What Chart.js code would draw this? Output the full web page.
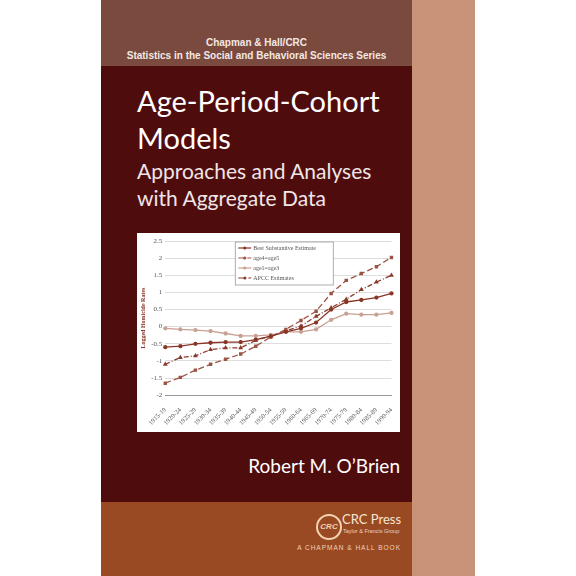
<!DOCTYPE html>
<html><head><meta charset="utf-8">
<script src="https://cdn.jsdelivr.net/npm/chart.js@4"></script>
<style>
body{margin:0;width:576px;height:576px;background:#fff;position:relative;overflow:hidden;font-family:"Open Sans",sans-serif}
.abs{position:absolute}
#top{left:101px;top:0;width:311px;height:66px;background:#7a4a3e}
#mid{left:101px;top:66px;width:311px;height:436px;background:#4f0c0d}
#bot{left:101px;top:502px;width:311px;height:74px;background:#9a4a22}
#side{left:412px;top:0;width:63px;height:576px;background:#c9937a}
.series{width:311px;left:101px;top:36px;text-align:center;color:#f3e8e2;font:bold 10px "Liberation Sans",sans-serif;line-height:13px}
.title{left:137px;color:#fff;font-size:29px;line-height:37px;font-family:Lato,sans-serif}
.sub{left:137px;color:#f0e6e6;font-size:21px;line-height:27px;font-family:Lato,sans-serif}
#box{left:137px;top:233px;width:263px;height:199px;background:#fff}
</style></head><body>
<div id="top" class="abs"></div><div id="mid" class="abs"></div><div id="bot" class="abs"></div><div id="side" class="abs"></div>
<div class="abs series">Chapman &amp; Hall/CRC<br>Statistics in the Social and Behavioral Sciences Series</div>
<div class="abs title" style="top:82px">Age-Period-Cohort<br>Models</div>
<div class="abs sub" style="top:157px">Approaches and Analyses<br>with Aggregate Data</div>
<div class="abs" style="left:200px;width:200px;text-align:right;top:454px;color:#fff;font:19px Lato,sans-serif">Robert M. O’Brien</div>
<div class="abs" style="left:316px;top:514px;width:22px;height:22px;border:2px solid #f2d2b0;border-radius:50%;color:#f2d2b0;font:italic bold 8px sans-serif;text-align:center;line-height:22px">CRC</div>
<div class="abs" style="left:342px;top:511px;color:#f7e4d2;font:13px Lato,sans-serif">CRC Press</div>
<div class="abs" style="left:343px;top:528px;color:#f0d0b8;font:5.5px sans-serif">Taylor &amp; Francis Group</div>
<div class="abs" style="left:290px;top:544px;width:111px;text-align:right;color:#f0d0b8;font:6.5px sans-serif;letter-spacing:1px">A CHAPMAN &amp; HALL BOOK</div>
<div id="box" class="abs"><canvas id="c" width="263" height="199"></canvas></div>
<script>
var cohorts=["1915-19","1920-24","1925-29","1930-34","1935-39","1940-44","1945-49","1950-54","1955-59","1960-64","1965-69","1970-74","1975-79","1980-84","1985-89","1990-94"];
var bestEstimate=[-0.6,-0.57,-0.5,-0.47,-0.45,-0.45,-0.38,-0.28,-0.15,-0.05,0.12,0.5,0.72,0.78,0.85,0.97];
var age4age5=[-1.65,-1.48,-1.27,-1.1,-0.95,-0.8,-0.57,-0.3,-0.08,0.18,0.45,0.97,1.35,1.55,1.75,2.02];
var age1age3=[-0.05,-0.08,-0.1,-0.13,-0.2,-0.27,-0.27,-0.24,-0.15,-0.15,-0.08,0.2,0.38,0.35,0.35,0.4];
var apcc=[-1.1,-0.9,-0.85,-0.67,-0.62,-0.62,-0.4,-0.27,-0.12,0.02,0.3,0.55,0.8,1.08,1.3,1.5];
var names=["Best Substantive Estimate","age4=age5","age1=age3","APCC Estimates"];

function ds(label,data,color,dash,style){
  return {label:label,data:data,borderColor:color,backgroundColor:color,borderDash:dash,borderWidth:1.3,pointStyle:style,pointRadius:1.5,tension:0};
}
var legendBox={id:"legendBox",afterDraw:function(ch){
  var g=ch.ctx,a=ch.chartArea,x=a.left+70,y=a.top+1,w=98,h=43;
  g.save();g.fillStyle="#fff";g.fillRect(x,y,w,h);g.strokeStyle="#999";g.lineWidth=0.8;g.strokeRect(x,y,w,h);
  ch.data.datasets.forEach(function(d,i){
    var yy=y+6+i*10;
    g.strokeStyle=d.borderColor;g.setLineDash(d.borderDash);g.lineWidth=1.2;
    g.beginPath();g.moveTo(x+3,yy);g.lineTo(x+16,yy);g.stroke();g.setLineDash([]);
    g.fillStyle=d.borderColor;g.beginPath();g.arc(x+9.5,yy,1.6,0,7);g.fill();
    g.fillStyle="#555";g.font="6px 'Liberation Serif'";g.textBaseline="middle";g.fillText(d.label,x+18,yy);
  });
  g.restore();
}};
new Chart(document.getElementById("c"),{
  type:"line",
  data:{labels:cohorts,datasets:[
    ds(names[0],bestEstimate,"#8a3526",[],"circle"),
    ds(names[1],age4age5,"#9c5444",[6,3],"rect"),
    ds(names[2],age1age3,"#c9a094",[],"circle"),
    ds(names[3],apcc,"#8a3a2c",[5,2,1,2],"triangle")
  ]},
  options:{responsive:false,animation:false,
    layout:{padding:{top:8,right:6,left:2,bottom:2}},
    plugins:{legend:{display:false},tooltip:{enabled:false}},
    scales:{
      y:{min:-2,max:2.5,ticks:{stepSize:0.5,color:"#555",font:{size:7,family:"Liberation Serif"},padding:3,callback:function(v){return String(v);}},
        grid:{color:"#ddd",drawTicks:false},border:{display:false},
        title:{display:true,text:"Logged Homicide Rates",color:"#8a3526",font:{size:6,weight:"bold",family:"Liberation Serif"},padding:1}},
      x:{ticks:{color:"#555",font:{size:6.5,family:"Liberation Serif"},maxRotation:45,minRotation:45,autoSkip:false},
        grid:{display:false},border:{color:"#999"}}
    }},
  plugins:[legendBox]
});
</script></body></html>
